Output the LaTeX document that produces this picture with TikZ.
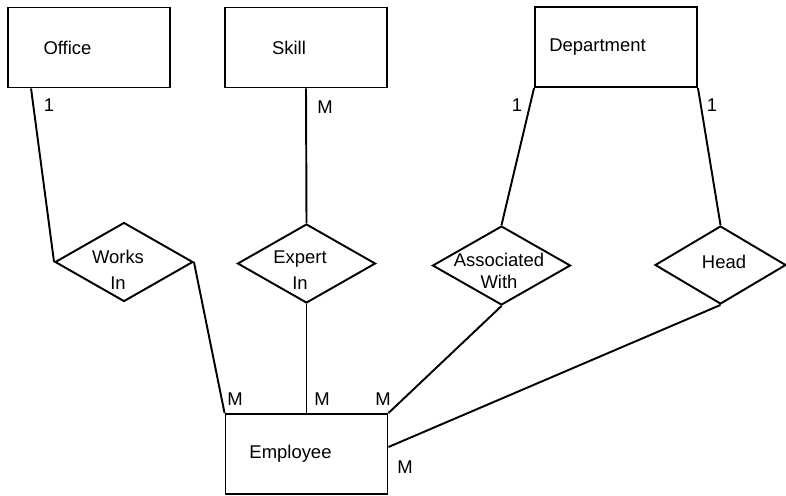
\documentclass[tikz,border=0pt]{standalone}
\usepackage{fontspec}
\setmainfont{Liberation Sans}
\usepackage{tikz}
\usetikzlibrary{shapes.geometric}

\tikzset{
  entity/.style={draw, rectangle, minimum width=3.24cm, minimum height=1.6cm, inner sep=0},
  rel/.style={draw, diamond, minimum width=2.76cm, minimum height=1.58cm, inner sep=0},
  lbl/.style={align=center, inner sep=0},
  card/.style={inner sep=0}
}

\begin{document}
\begin{tikzpicture}[x=.02cm, y=-.02cm, line width=1.1pt, font=\fontsize{10.5}{14.5}\selectfont]
\useasboundingbox (0,0) rectangle (786,495);
\node[entity, label={[xshift=-.43cm]center:Office}] (office) at (89,47.5) {};
\node[entity, label={[xshift=-.34cm]center:Skill}] (skill) at (306,47.5) {};
\node[entity, label={[xshift=-.37cm]center:Department}] (dept) at (616,47) {};
\node[entity, label={[xshift=-.32cm]center:Employee}] (emp) at (306.5,454) {};
\node[rel] (works) at (124,262) {};
\node[rel] (expert) at (306.5,263.5) {};
\node[rel] (assoc) at (501.5,265.5) {};
\node[rel, minimum width=2.62cm, minimum height=1.56cm] (head) at (720.5,265) {};
\node[lbl] (works-t) at (118,270) {Works\\In};
\node[lbl] (expert-t) at (300,270) {Expert\\In};
\node[lbl] (assoc-t) at (499,271) {Associated\\[-2pt]With};
\node[lbl] (head-t) at (724,262) {Head};
\draw ([xshift=.48cm]office.south west) -- (works.west);
\draw (works.east) -- (emp.north west);
\draw (skill.south) -- (expert.north);
\draw (expert.south) -- (emp.north);
\draw (dept.south west) -- (assoc.north);
\draw (assoc.south) -- (emp.north east);
\draw (dept.south east) -- (head.north);
\draw (head.south) -- ([yshift=.14cm]emp.east);
\node[card] (c1) at (49,105) {1};
\node[card] (c2) at (325,107) {M};
\node[card] (c3) at (517,105) {1};
\node[card] (c4) at (712,105) {1};
\node[card] (c5) at (235,399) {M};
\node[card] (c6) at (322,399) {M};
\node[card] (c7) at (383,399) {M};
\node[card] (c8) at (405,467) {M};
\end{tikzpicture}
\end{document}
